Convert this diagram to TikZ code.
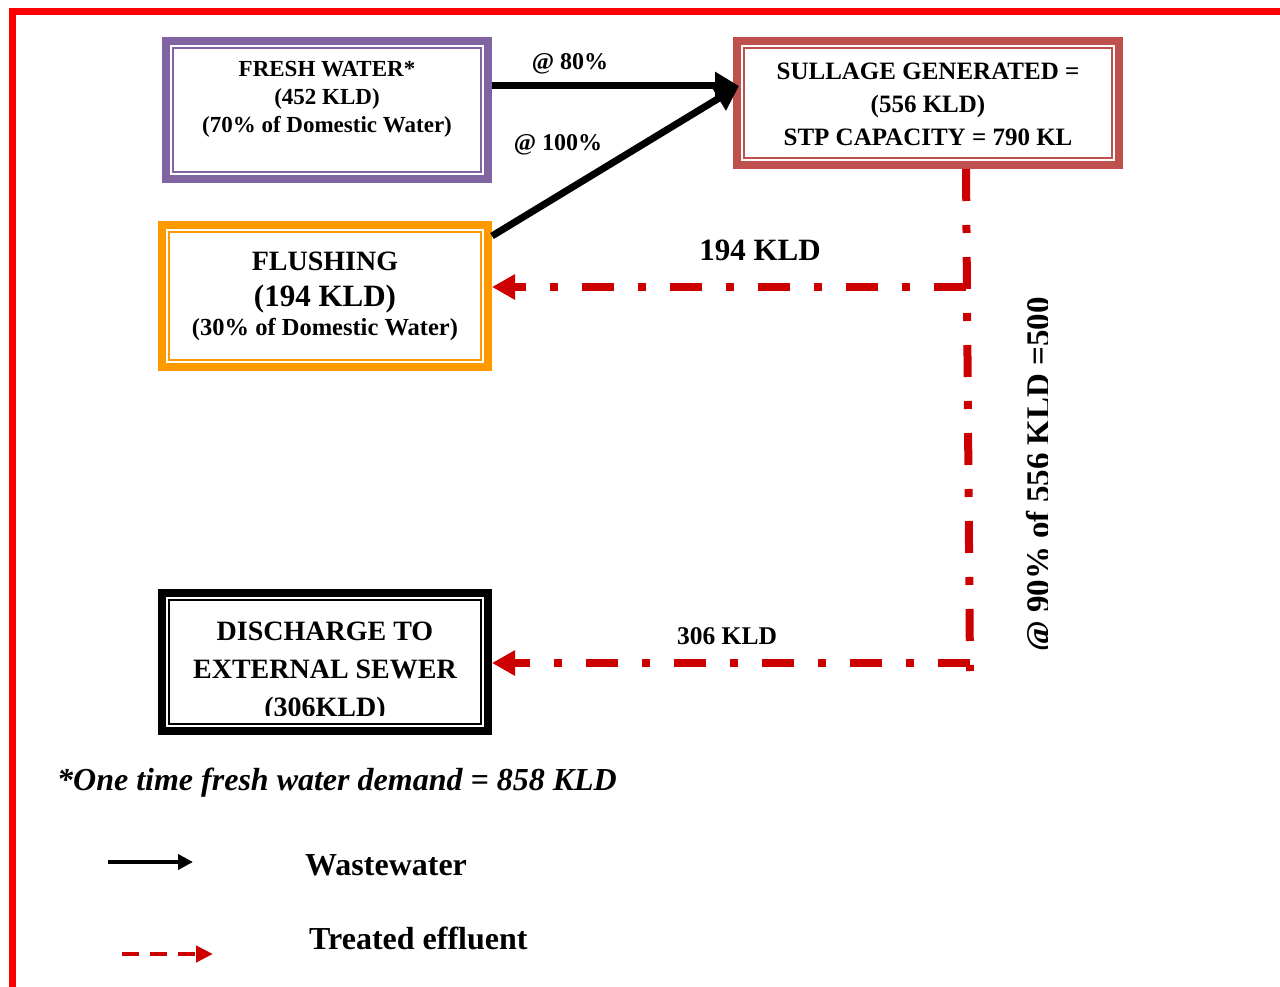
\documentclass[tikz,border=0pt]{standalone}
\usepackage{fontspec}
\setmainfont{Liberation Serif}
\usepackage{tikz}
\usetikzlibrary{arrows.meta,positioning,calc}

\definecolor{frameRed}{HTML}{FF0000}
\definecolor{boxPurple}{HTML}{8064A2}
\definecolor{boxRed}{HTML}{C0504D}
\definecolor{boxOrange}{HTML}{FF9900}
\definecolor{flowRed}{HTML}{CC0000}

\newcommand{\bsz}[2]{\fontsize{#1}{#2}\selectfont\bfseries}

\tikzset{
	tank/.style={draw=#1, line width=8pt, fill=white, inner sep=0pt,
		path picture={\draw[#1, line width=1.8pt]
			([shift={(7pt,7pt)}]path picture bounding box.south west) rectangle
			([shift={(-7pt,-7pt)}]path picture bounding box.north east);}},
	lbl/.style={inner sep=0pt, anchor=base},
	ww/.style={black, line width=7pt, -{Triangle[length=24pt,width=27pt]}},
	te/.style={flowRed, line width=8pt, dash pattern=on 32pt off 24pt on 8pt off 24pt},
	tetip/.style={-{Triangle[length=23pt,width=24pt]}}
}

\begin{document}
\begin{tikzpicture}[x=1pt, y=-1pt]
	\useasboundingbox (0,0) rectangle (1280,987);
	\draw[frameRed, line width=7pt] (12.5,987) -- (12.5,11.5) -- (1280,11.5);

	% boxes
	\node[tank=boxPurple, minimum width=322pt, minimum height=138pt] (fresh) at (327,110) {};
	\node[tank=boxRed, minimum width=382pt, minimum height=124pt] (sullage) at (928,103) {};
	\node[tank=boxOrange, minimum width=326pt, minimum height=142pt] (flush) at (325,296) {};
	\node[tank=black, minimum width=326pt, minimum height=138pt] (sewer) at (325,662) {};

	\node[align=center, font=\bsz{23}{28}] (freshtxt) at (327,99) {FRESH WATER*\\(452 KLD)\\(70\% of Domestic Water)};
	\node[align=center, font=\bsz{25}{33}] (sulltxt) at (928,104) {SULLAGE GENERATED =\\(556 KLD)\\STP CAPACITY = 790 KL};
	\node[lbl, font=\bsz{28}{32}] (fl1) at (325,270) {FLUSHING};
	\node[lbl, font=\bsz{31}{36}] (fl2) at (325,306) {(194 KLD)};
	\node[lbl, font=\bsz{24.5}{28}] (fl3) at (325,335) {(30\% of Domestic Water)};
	\begin{scope}
		\clip (170,600) rectangle (480,715);
		\node[align=center, font=\bsz{28}{38}] (sewertxt) at (325,672) {DISCHARGE TO\\EXTERNAL SEWER\\(306KLD)};
	\end{scope}

	% wastewater
	\coordinate (sin) at (739,86);
	\draw[ww] (sin -| fresh.east) -- (sin);
	\draw[ww] ([yshift=-15pt]flush.north east) -- (sin);
	\node[lbl, font=\bsz{24}{28}] (p80) at (570,70) {@ 80\%};
	\node[lbl, font=\bsz{24}{28}] (p100) at (558,151) {@ 100\%};

	% treated effluent
	\coordinate (j1) at (966,287);
	\coordinate (j2) at (970,663);
	\draw[te] (j1 |- sullage.south) -- ([yshift=-8pt]j2);
	\draw[te, tetip] (j1) -- (j1 -| flush.east);
	\draw[te, tetip] (j2) -- (j2 -| sewer.east);
	\node[lbl, font=\bsz{31}{36}] (k194) at (760,261) {194 KLD};
	\node[lbl, font=\bsz{25.5}{30}] (k306) at (727,644) {306 KLD};
	\begin{scope}
		\clip (1000,280) rectangle (1047,680);
		\node[lbl, anchor=base west, rotate=90, font=\bsz{33}{38}] (pct) at (1049,652) {@ 90\% of 556 KLD =500};
	\end{scope}

	\node[lbl, anchor=base west, font=\bsz{32}{36}\itshape] (note) at (57,790) {*One time fresh water demand = 858 KLD};

	% legend
	\coordinate (ww1) at (108,862);
	\coordinate (ww2) at (193,862);
	\draw[black, line width=4pt, -{Triangle[length=15pt,width=15pt]}] (ww1) -- (ww2);
	\node[lbl, anchor=base west, font=\bsz{32}{36}] (wwtxt) at (305,875) {Wastewater};
	\coordinate (te1) at (122,954);
	\coordinate (te2) at (213,954);
	\draw[flowRed, line width=4.5pt, dash pattern=on 17pt off 11pt, -{Triangle[length=17pt,width=16pt]}] (te1) -- (te2);
	\node[lbl, anchor=base west, font=\bsz{32}{36}] (tetxt) at (309,949) {Treated effluent};
\end{tikzpicture}
\end{document}
